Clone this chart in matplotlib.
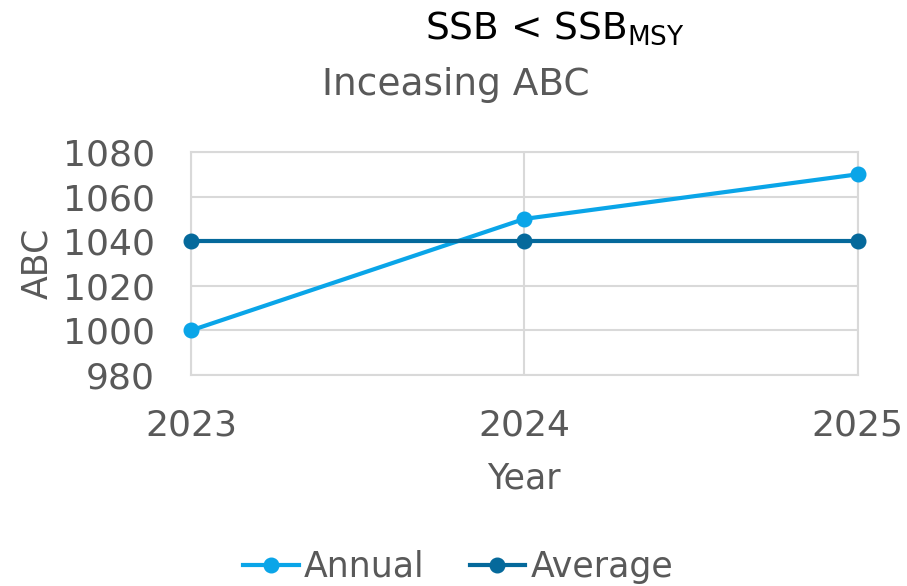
import matplotlib.pyplot as plt

years = [2023, 2024, 2025]
annual = [1000, 1050, 1070]
average = [1040, 1040, 1040]
y_ticks = [980, 1000, 1020, 1040, 1060, 1080]

plt.rcParams['font.family'] = ['DejaVu Sans']
grey = '#595959'
grid = '#d9d9d9'

fig = plt.figure(figsize=(9.07, 5.86), dpi=100)
ax = fig.add_axes([0.2106, 0.360, 0.735, 0.3806])

ax.plot(years, annual, color='#0AA5E8', lw=3, marker='o', ms=10.5, label='Annual', clip_on=False, zorder=3)
ax.plot(years, average, color='#05699B', lw=3, marker='o', ms=10.5, label='Average', clip_on=False, zorder=3)

ax.set_xlim(2023, 2025)
ax.set_ylim(980, 1080)
ax.set_xticks(years)
ax.set_yticks(y_ticks)
ax.grid(True, color=grid, lw=1.5)
for s in ax.spines.values():
    s.set_color(grid)
    s.set_linewidth(1.5)
ax.tick_params(length=0, labelsize=26, colors=grey)
ax.tick_params(axis='y', pad=26)
ax.tick_params(axis='x', pad=24)

ax.set_xlabel('Year', fontsize=25, color=grey, labelpad=14)
ax.set_ylabel('ABC', fontsize=25, color=grey, labelpad=6)

fig.text(0.612, 0.952, 'SSB < SSB$_{\\mathregular{MSY}}$', fontsize=27, color='black', ha='center', va='center')
fig.text(0.502, 0.855, 'Inceasing ABC', fontsize=27, color=grey, ha='center', va='center')

fig.legend(loc='center', bbox_to_anchor=(0.505, 0.033), ncol=2, frameon=False, fontsize=25,
           labelcolor=grey, handlelength=1.6, handletextpad=0.15, columnspacing=1.3)

fig.savefig('out.png', dpi=100)
